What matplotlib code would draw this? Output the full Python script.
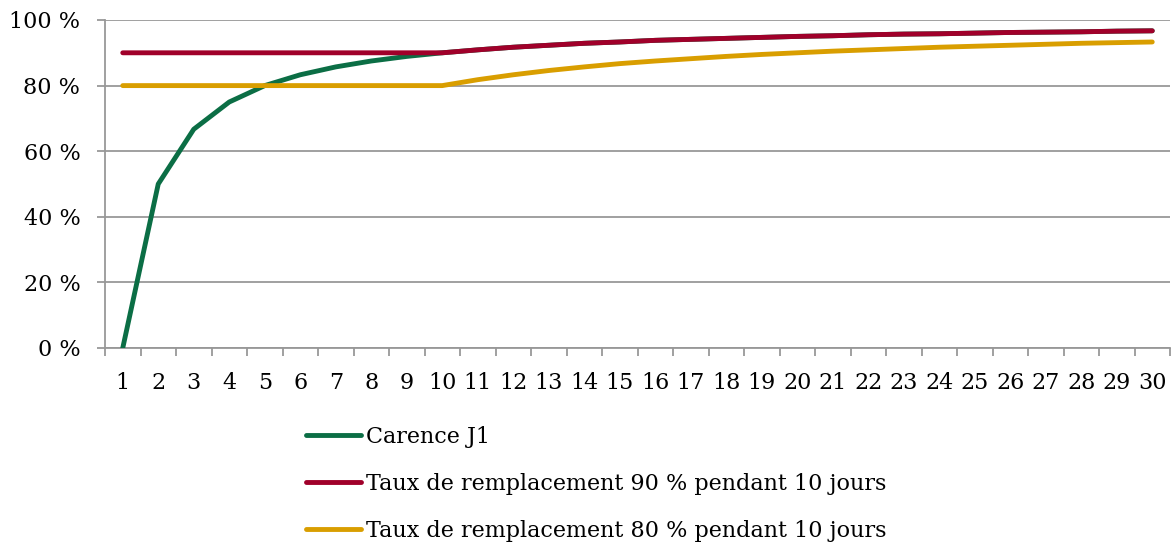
import matplotlib
matplotlib.use("Agg")
import matplotlib.pyplot as plt
from matplotlib.ticker import FixedLocator

days = list(range(1, 31))
day_labels = [str(d) for d in days]

carence_j1 = [0, 50, 66.7, 75, 80, 83.3, 85.7, 87.5, 88.9, 90,
              90.9, 91.7, 92.3, 92.9, 93.3, 93.8, 94.1, 94.4, 94.7, 95,
              95.2, 95.5, 95.7, 95.8, 96, 96.2, 96.3, 96.4, 96.6, 96.7]
taux_90 = [90, 90, 90, 90, 90, 90, 90, 90, 90, 90,
           90.9, 91.7, 92.3, 92.9, 93.3, 93.8, 94.1, 94.4, 94.7, 95,
           95.2, 95.5, 95.7, 95.8, 96, 96.2, 96.3, 96.4, 96.6, 96.7]
taux_80 = [80, 80, 80, 80, 80, 80, 80, 80, 80, 80,
           81.8, 83.3, 84.6, 85.7, 86.7, 87.5, 88.2, 88.9, 89.5, 90,
           90.5, 90.9, 91.3, 91.7, 92, 92.3, 92.6, 92.9, 93.1, 93.3]

series_labels = ["Carence J1",
                 "Taux de remplacement 90 % pendant 10 jours",
                 "Taux de remplacement 80 % pendant 10 jours"]
y_ticks = [0, 20, 40, 60, 80, 100]
y_tick_labels = ["0 %", "20 %", "40 %", "60 %", "80 %", "100 %"]

colors = ["#0b6e45", "#a0002a", "#d99e00"]
grid_col = "#989898"
font = "DejaVu Serif"
fs = 16

W, H = 1172, 544
fig = plt.figure(figsize=(W / 100, H / 100), dpi=100)
ax = fig.add_axes([105 / W, 1 - 348 / H, (1170 - 105) / W, (348 - 20) / H])

x = list(range(len(days)))
lines = []
for vals, col, lab in zip([carence_j1, taux_90, taux_80], colors, series_labels):
    ln, = ax.plot(x, vals, color=col, lw=3.5, solid_capstyle="round",
                  solid_joinstyle="round", label=lab, zorder=3)
    lines.append(ln)
# draw 90 % line above the others so it covers the shared tail
lines[1].set_zorder(4)

ax.set_xlim(-0.5, len(days) - 0.5)
ax.set_ylim(0, 100)

ax.set_yticks(y_ticks)
ax.set_yticklabels(y_tick_labels, fontfamily=font, fontsize=fs)
ax.yaxis.grid(True, color=grid_col, lw=1.3)
ax.set_axisbelow(True)

# category axis: ticks at boundaries, labels at centres
ax.xaxis.set_major_locator(FixedLocator([i - 0.5 for i in range(len(days) + 1)]))
ax.xaxis.set_major_formatter(plt.NullFormatter())
ax.xaxis.set_minor_locator(FixedLocator(x))
ax.set_xticklabels(day_labels, minor=True, fontfamily=font, fontsize=fs)
ax.tick_params(axis="x", which="minor", length=0, pad=17)
ax.tick_params(axis="x", which="major", length=5.5, width=1.3, color=grid_col, direction="out")
ax.tick_params(axis="y", length=5.8, width=1.3, color=grid_col, pad=12)

for s in ["top", "right"]:
    ax.spines[s].set_visible(False)
for s in ["left", "bottom"]:
    ax.spines[s].set_color(grid_col)
    ax.spines[s].set_linewidth(1.3)

leg = fig.legend(handles=lines, loc="upper left",
                 bbox_to_anchor=(306 / W, 1 - 426 / H),
                 frameon=False, prop={"family": font, "size": fs},
                 handlelength=2.48, handletextpad=0.2, labelspacing=1.12,
                 borderaxespad=0, borderpad=0)

fig.savefig("out.png", dpi=100)
